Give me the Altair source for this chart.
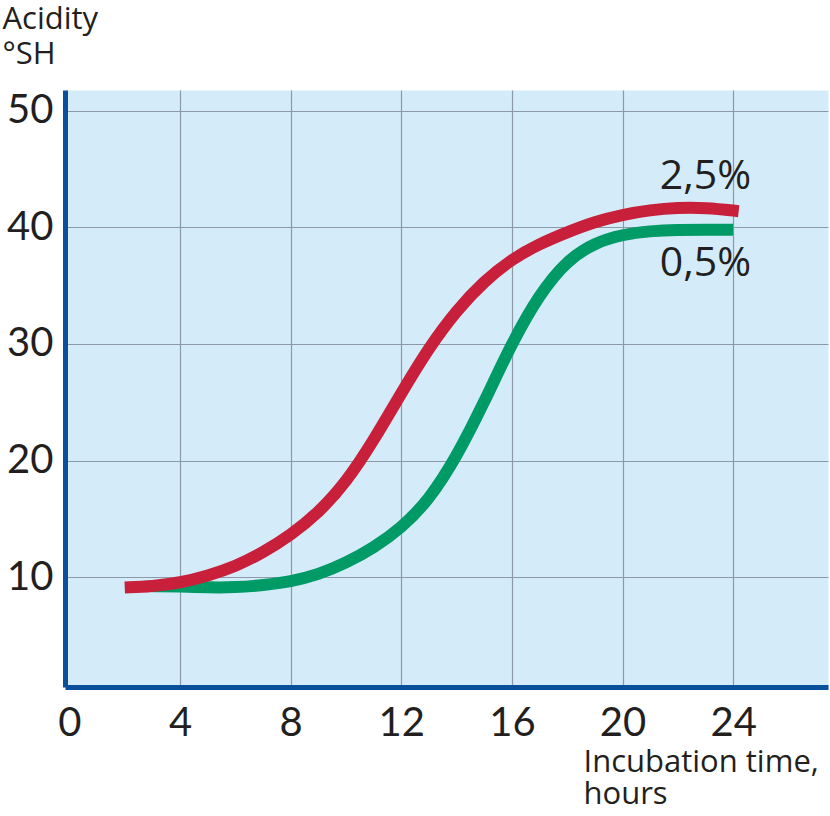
import altair as alt
import pandas as pd

# ---- data ----
hours_25 = [2, 3, 4, 5, 6, 7, 8, 9, 10, 11, 12, 13, 14, 15, 16, 17, 18, 19, 20, 21, 22, 23, 24.2]
acid_25 = [9.1, 9.2, 9.5, 10.1, 10.9, 12.1, 13.6, 15.5, 18.1, 21.7, 25.8, 29.7, 32.9, 35.4,
           37.3, 38.6, 39.6, 40.5, 41.1, 41.5, 41.7, 41.7, 41.4]

hours_05 = [3, 4, 5, 6, 7, 8, 9, 10, 11, 12, 13, 14, 15, 16, 17, 18, 19, 20, 21, 22, 23, 24]
acid_05 = [9.2, 9.2, 9.1, 9.1, 9.3, 9.6, 10.2, 11.2, 12.5, 14.2, 16.6, 20.3, 25.0, 30.1,
           34.3, 37.2, 38.7, 39.4, 39.7, 39.8, 39.8, 39.8]

series = ["0,5%", "2,5%"]
series_colors = ["#009a66", "#c8203a"]

label_text = ["2,5%", "0,5%"]
label_x = [23.0, 23.0]
label_y = [44.3, 36.9]

x_ticks = [0, 4, 8, 12, 16, 20, 24]
y_ticks = [10, 20, 30, 40, 50]

# ---- tables ----
df = pd.concat([
    pd.DataFrame({"hours": hours_05, "acidity": acid_05, "series": "0,5%", "order": range(len(hours_05))}),
    pd.DataFrame({"hours": hours_25, "acidity": acid_25, "series": "2,5%", "order": range(len(hours_25))}),
])
labels = pd.DataFrame({"text": label_text, "hours": label_x, "acidity": label_y})

TEXT = "#231f20"
AXIS = "#0a4f9c"
GRID = "#8c9aa8"
FONT = "Lato"
TFONT = "Open Sans"

x_scale = alt.Scale(domain=[-0.16, 27.43], nice=False, zero=False)
y_scale = alt.Scale(domain=[0.56, 51.8], nice=False, zero=False)

x_axis = alt.Axis(
    values=x_ticks, ticks=False, domainColor=AXIS, domainWidth=5,
    labelFontSize=40, labelFont=FONT, labelColor=TEXT, labelPadding=16,
    labelFlush=False, labelOverlap=False,
    grid=True,
    gridColor={"condition": {"test": "datum.value === 0", "value": "transparent"}, "value": GRID},
    gridWidth=1.2,
    title=["Incubation time,", "hours"], titleX=518, titleY=84,
    titleAlign="left", titleBaseline="alphabetic", titleAngle=0,
    titleFontSize=31, titleFont=TFONT, titleFontWeight="normal",
    titleColor=TEXT, titleLineHeight=32,
)
y_axis = alt.Axis(
    values=y_ticks, ticks=False, domainColor=AXIS, domainWidth=5,
    labelFontSize=40, labelFont=FONT, labelColor=TEXT, labelPadding=12,
    labelFlush=False, labelOverlap=False, labelBaseline="middle",
    grid=True, gridColor=GRID, gridWidth=1.2,
    title=["Acidity", "\u00a0°SH"], titleX=-63, titleY=-62,
    titleAlign="left", titleBaseline="alphabetic", titleAngle=0,
    titleFontSize=31, titleFont=TFONT, titleFontWeight="normal",
    titleColor=TEXT, titleLineHeight=35,
)

lines = alt.Chart(df).mark_line(
    strokeWidth=12, interpolate="basis", strokeCap="butt"
).encode(
    x=alt.X("hours:Q", scale=x_scale, axis=x_axis),
    y=alt.Y("acidity:Q", scale=y_scale, axis=y_axis),
    color=alt.Color("series:N", scale=alt.Scale(domain=series, range=series_colors), legend=None),
    detail="series:N",
    order="order:Q",
)

texts = alt.Chart(labels).mark_text(
    font=TFONT, fontSize=41, color=TEXT, align="center", baseline="middle"
).encode(
    x=alt.X("hours:Q", scale=x_scale),
    y=alt.Y("acidity:Q", scale=y_scale),
    text="text:N",
)

chart = alt.layer(lines, texts).properties(
    width=763, height=597,
    autosize=alt.AutoSizeParams(type="none"),
    padding={"left": 65, "top": 90, "right": 2, "bottom": 129},
    background="white",
).configure_view(fill="#d4ecfa", stroke="transparent")

chart.save("out.html", embed_options={"renderer": "svg", "actions": False})
